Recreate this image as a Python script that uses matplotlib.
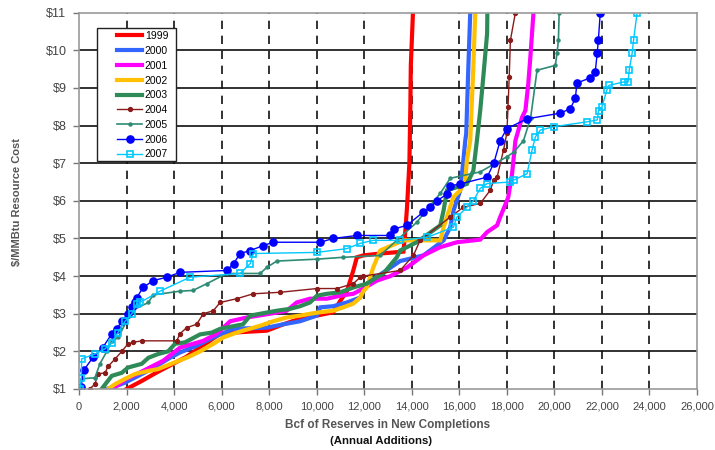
import matplotlib
matplotlib.use('Agg')
import matplotlib.pyplot as plt
from matplotlib.patches import Rectangle

plt.rcParams['font.family'] = ['Liberation Sans', 'DejaVu Sans']

# ---------------- data (Bcf cumulative reserves, $/MMBtu) ----------------
years = ['1999', '2000', '2001', '2002', '2003', '2004', '2005', '2006', '2007']

x_1999 = [2000, 2600, 3300, 3900, 4500, 5090, 5940, 6500, 7900, 8600, 9300, 10000, 10690,
          11000, 11270, 11410, 11540, 11690, 11960, 12670, 13650, 13720, 13800, 13900,
          13940, 13960, 14050]
y_1999 = [1.0, 1.2, 1.45, 1.65, 1.85, 2.1, 2.47, 2.5, 2.55, 2.72, 2.87, 2.95, 3.04,
          3.35, 3.6, 3.88, 4.15, 4.5, 4.55, 4.6, 4.65, 5.13, 5.83, 7.0,
          8.5, 9.6, 11.0]

x_2000 = [1100, 1380, 1940, 2500, 3100, 3830, 4250, 4950, 5650, 6500, 7900, 8600, 9300,
          10000, 10150, 10690, 11270, 11830, 12110, 13510, 14490, 15340, 15620, 15760,
          16040, 16170, 16250, 16290, 16380, 16460]
y_2000 = [1.0, 1.03, 1.17, 1.35, 1.55, 1.83, 1.97, 2.15, 2.37, 2.6, 2.63, 2.72, 2.8,
          2.95, 3.17, 3.2, 3.3, 3.43, 3.8, 4.4, 4.55, 4.95, 5.3, 5.75,
          6.28, 7.07, 7.6, 7.78, 9.55, 11.0]

x_2001 = [1380, 1730, 1940, 2600, 3540, 4250, 5230, 5800, 6360, 7060, 8040, 8740, 9160,
          9720, 10430, 11000, 11540, 11960, 12530, 13100, 13800, 14490, 15200, 15900,
          16880, 17170, 17590, 17720, 18000, 18060, 18220, 18360, 18640, 18780, 18900,
          18990, 19120]
y_2001 = [1.0, 1.15, 1.25, 1.45, 1.75, 2.1, 2.28, 2.47, 2.8, 2.9, 3.0, 3.08, 3.3,
          3.4, 3.4, 3.48, 3.53, 3.67, 3.88, 4.0, 4.23, 4.55, 4.77, 4.9,
          4.97, 5.17, 5.35, 5.57, 6.0, 6.1, 6.72, 7.6, 8.22, 8.4, 9.1,
          9.83, 11.0]

x_2002 = [1220, 1520, 1940, 2360, 2920, 3330, 4000, 4600, 5090, 5650, 6070, 6500, 6900,
          7620, 8170, 8740, 9300, 9720, 10150, 10690, 11120, 11540, 11830, 11960, 12110,
          12380, 12670, 13650, 15200, 15340, 15750, 16040, 16250, 16320, 16460, 16530,
          16590, 16670]
y_2002 = [1.0, 1.13, 1.27, 1.4, 1.48, 1.53, 1.7, 1.85, 2.0, 2.2, 2.37, 2.47, 2.55,
          2.68, 2.8, 2.9, 2.95, 3.0, 3.04, 3.08, 3.17, 3.27, 3.43, 3.6, 3.7,
          4.23, 4.68, 4.95, 4.95, 5.3, 6.1, 6.28, 6.55, 7.08, 7.6, 8.67,
          9.55, 11.0]

x_2003 = [950, 1380, 1800, 2060, 2640, 2920, 3330, 3750, 4040, 4460, 5090, 5590, 5940,
          6900, 7200, 8320, 8880, 9300, 9720, 10010, 10430, 11000, 11550, 12110, 12530,
          12810, 13370, 13510, 14210, 15200, 15340, 15480, 16320, 16590, 16740, 16880,
          17020, 17170, 17180]
y_2003 = [1.0, 1.35, 1.43, 1.57, 1.67, 1.83, 1.93, 2.0, 2.2, 2.24, 2.45, 2.5, 2.6,
          2.72, 2.95, 3.08, 3.13, 3.2, 3.3, 3.48, 3.53, 3.57, 3.7, 3.8, 3.97,
          4.07, 4.5, 4.68, 4.9, 5.35, 5.75, 6.28, 6.45, 6.8, 7.6, 8.4,
          9.37, 10.45, 11.0]

x_2004 = [450, 670, 800, 1100, 1220, 1520, 1800, 2060, 2270, 2640, 4110, 4250, 4530,
          4950, 5230, 5650, 5940, 6640, 7330, 8460, 10010, 10850, 11540, 11830, 11960,
          13510, 14070, 14350, 15620, 16170, 16880, 17300, 17450, 17590, 17860, 18000,
          18050, 18100, 18150, 18360]
y_2004 = [1.0, 1.13, 1.4, 1.43, 1.6, 1.8, 2.0, 2.2, 2.24, 2.28, 2.28, 2.47, 2.63,
          2.72, 3.0, 3.08, 3.3, 3.4, 3.53, 3.57, 3.67, 3.67, 3.8, 3.97, 4.0,
          4.15, 4.55, 4.95, 5.57, 5.83, 5.93, 6.28, 6.55, 6.63, 7.35, 7.8,
          8.5, 9.3, 10.27, 11.0]

x_2005 = [60, 110, 670, 880, 1170, 1380, 1655, 2218, 2918, 3120, 4250, 4800, 5380,
          6220, 7620, 7900, 8320, 10000, 11120, 12670, 13370, 14210, 15200, 15620,
          16880, 18000, 18300, 18700, 19000, 19270, 20040, 20110, 20170, 20200]
y_2005 = [1.0, 1.27, 1.3, 1.67, 2.0, 2.27, 2.37, 3.08, 3.3, 3.5, 3.6, 3.62, 3.8,
          4.07, 4.07, 4.23, 4.4, 4.45, 4.5, 4.55, 4.95, 5.43, 6.2, 6.6,
          6.77, 7.17, 7.3, 7.6, 8.2, 9.47, 9.6, 9.92, 10.27, 11.0]

x_2006 = [80, 200, 600, 1000, 1380, 1590, 1800, 2060, 2220, 2360, 2430, 2700, 3120,
          3690, 4250, 6220, 6500, 6780, 7200, 7750, 8170, 10150, 10690, 11690, 13100,
          13240, 13800, 14480, 14780, 15060, 15480, 15620, 16040, 17170, 17450, 17720,
          18000, 18850, 20250, 20670, 20880, 20950, 21510, 21720, 21800, 21850, 21930]
y_2006 = [1.05, 1.5, 1.85, 2.1, 2.47, 2.6, 2.8, 3.0, 3.17, 3.3, 3.43, 3.7, 3.88,
          3.97, 4.1, 4.15, 4.33, 4.6, 4.68, 4.81, 4.9, 4.9, 5.0, 5.08, 5.08,
          5.25, 5.35, 5.7, 5.83, 6.0, 6.18, 6.4, 6.45, 6.63, 7.0, 7.6,
          7.92, 8.18, 8.33, 8.45, 8.72, 9.13, 9.27, 9.43, 9.92, 10.27, 11.0]

x_2007 = [60, 100, 110, 670, 1100, 1380, 1640, 1940, 2220, 2430, 2570, 3410, 4670,
          6780, 7200, 7330, 10000, 11270, 11830, 12380, 13510, 14640, 15750, 15900,
          16320, 16590, 16880, 17170, 18150, 18280, 18850, 19060, 19200, 19410, 19970,
          21380, 21800, 21860, 22000, 22210, 22300, 22920, 23100, 23150, 23270, 23330,
          23480]
y_2007 = [1.0, 1.3, 1.8, 1.93, 2.07, 2.23, 2.5, 2.8, 3.0, 3.27, 3.3, 3.6, 3.97,
          4.07, 4.33, 4.6, 4.63, 4.73, 4.87, 4.95, 4.95, 5.03, 5.3, 5.57,
          5.83, 6.0, 6.33, 6.46, 6.5, 6.55, 6.72, 7.35, 7.7, 7.88, 7.97,
          8.1, 8.15, 8.4, 8.5, 8.95, 9.07, 9.16, 9.16, 9.48, 9.92, 10.27,
          11.0]

x_ticks = [0, 2000, 4000, 6000, 8000, 10000, 12000, 14000, 16000, 18000, 20000,
           22000, 24000, 26000]
x_tick_labels = ['0', '2,000', '4,000', '6,000', '8,000', '10,000', '12,000', '14,000',
                 '16,000', '18,000', '20,000', '22,000', '24,000', '26,000']
y_ticks = [1, 2, 3, 4, 5, 6, 7, 8, 9, 10, 11]
y_tick_labels = ['$1', '$2', '$3', '$4', '$5', '$6', '$7', '$8', '$9', '$10', '$11']

series_x = [x_1999, x_2000, x_2001, x_2002, x_2003, x_2004, x_2005, x_2006, x_2007]
series_y = [y_1999, y_2000, y_2001, y_2002, y_2003, y_2004, y_2005, y_2006, y_2007]

# ---------------- styles ----------------
styles = [
    dict(color='#FF0000', lw=3.0),
    dict(color='#3366FF', lw=3.0),
    dict(color='#FF00FF', lw=3.0),
    dict(color='#FFC000', lw=3.0),
    dict(color='#2E8B57', lw=3.0),
    dict(color='#8B1A1A', lw=1.0, marker='o', ms=2.8),
    dict(color='#2E8B74', lw=1.2, marker='o', ms=2.2),
    dict(color='#0000FF', lw=1.0, marker='o', ms=5.2),
    dict(color='#00C8FF', lw=1.0, marker='s', ms=4.5, mfc='none', mew=1.2),
]

fig = plt.figure(figsize=(7.15, 4.5), dpi=100)
ax = fig.add_axes([79 / 715, 1 - 389 / 450, (697 - 79) / 715, (389 - 12.7) / 450])

ax.set_xlim(0, 26000)
ax.set_ylim(1, 11)

for v in y_ticks[1:-1]:
    ax.axhline(v, color='#222222', lw=1.3, zorder=0.5)
for v in x_ticks[1:-1]:
    ax.axvline(v, color='#111111', lw=1.2, ls=(0, (5, 4)), zorder=0.5)

for yr, xs, ys, st in zip(years, series_x, series_y, styles):
    ax.plot(xs, ys, label=yr, solid_joinstyle='miter', **st)

ax.set_xticks(x_ticks)
ax.set_xticklabels(x_tick_labels)
ax.set_yticks(y_ticks)
ax.set_yticklabels(y_tick_labels)
ax.tick_params(axis='both', direction='out', length=4, width=1, color='#777777',
               labelsize=8, labelcolor='#444444', pad=5)
ax.tick_params(axis='y', labelsize=9)

for s in ax.spines.values():
    s.set_color('#999999')
    s.set_linewidth(1.2)

fig.text(17 / 715, 1 - 202 / 450, '$/MMBtu Resource Cost', rotation=90, ha='center',
         va='center', fontsize=8, fontweight='bold', color='#555555')
fig.text(388 / 715, 1 - 425 / 450, 'Bcf of Reserves in New Completions', ha='center',
         va='center', fontsize=8.5, fontweight='bold', color='#555555')
fig.text(381 / 715, 1 - 441 / 450, '(Annual Additions)', ha='center', va='center',
         fontsize=8.2, fontweight='bold', color='#111111')

# legend frame drawn manually (inside the axes, beneath the legend)
frame = Rectangle((97 / 715, 1 - 161 / 450), (176 - 97) / 715, (161 - 28) / 450,
                  transform=fig.transFigure, facecolor='white', edgecolor='#222222',
                  lw=1.0, zorder=4, clip_on=False)
ax.add_patch(frame)
leg = ax.legend(loc='upper left', bbox_to_anchor=(114 / 715, 1 - 28 / 450),
                bbox_transform=fig.transFigure, frameon=False, fontsize=7.5,
                handlelength=2.4, handletextpad=0.25, labelspacing=0.46,
                borderpad=0.3, borderaxespad=0)
leg.set_zorder(6)

fig.savefig('out.png', dpi=100)
